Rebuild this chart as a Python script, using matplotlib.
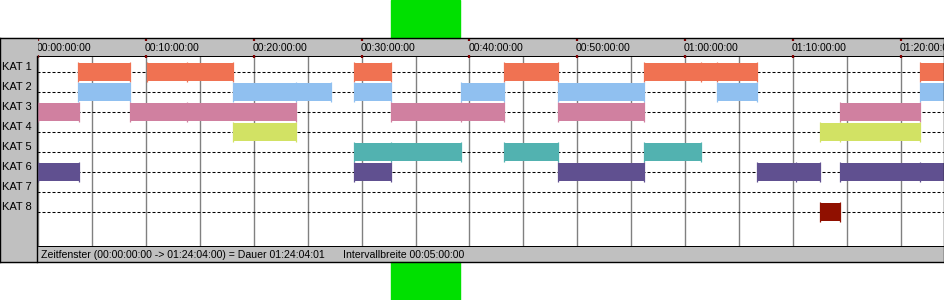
import matplotlib
matplotlib.use("Agg")
import matplotlib.pyplot as plt
from matplotlib.patches import Rectangle
from matplotlib.lines import Line2D

# categories and their segments (start, end) in minutes
categories = ["KAT 1", "KAT 2", "KAT 3", "KAT 4", "KAT 5", "KAT 6", "KAT 7", "KAT 8"]
colors = ["#F07252", "#90C0F0", "#D080A0", "#D2E264", "#52B2B0", "#605090", "#808080", "#901000"]

kat1 = [(3.68, 8.48), (10.08, 13.82), (13.82, 18.09), (29.29, 32.76), (43.2, 48.24),
        (56.22, 61.45), (61.45, 62.93), (62.93, 66.64), (81.81, 84.07)]
kat2 = [(3.68, 8.48), (18.09, 23.95), (23.95, 27.12), (29.29, 32.76), (39.17, 43.2),
        (48.24, 56.22), (62.93, 66.64), (81.81, 84.07)]
kat3 = [(0.0, 3.75), (8.48, 13.82), (13.82, 23.95), (32.76, 39.17), (39.17, 43.2),
        (48.24, 56.22), (74.38, 81.81)]
kat4 = [(18.09, 23.95), (72.5, 74.38), (74.38, 81.81)]
kat5 = [(29.29, 32.76), (32.76, 39.17), (43.2, 48.24), (56.22, 61.45)]
kat6 = [(0.0, 3.75), (29.29, 32.76), (48.24, 56.22), (66.64, 70.26), (70.26, 72.5),
        (74.38, 81.81), (81.81, 84.07)]
kat7 = []
kat8 = [(72.5, 74.38)]
segments = [kat1, kat2, kat3, kat4, kat5, kat6, kat7, kat8]

header_ticks = list(range(0, 81, 10))
header_labels = ["00:00:00:00", "00:10:00:00", "00:20:00:00", "00:30:00:00", "00:40:00:00",
                 "00:50:00:00", "01:00:00:00", "01:10:00:00", "01:20:00:00"]
status_left = "Zeitfenster (00:00:00:00 -> 01:24:04:00) = Dauer 01:24:04:01"
status_right = "Intervallbreite 00:05:00:00"

W, H = 945, 300
GRAY = "#C0C0C0"
FONT = "Liberation Sans"
FS = 7.6

def fx(x):
    return x / W

def fy(y):
    return 1 - y / H

fig = plt.figure(figsize=(W / 100, H / 100), dpi=100)
fig.patch.set_facecolor("white")

# green markers above / below the panel
for y0, y1 in [(0, 38), (262, 300)]:
    fig.patches.append(Rectangle((fx(391), fy(y1)), fx(460) - fx(391), fy(y0) - fy(y1),
                                 transform=fig.transFigure, color="#00E000", zorder=0))

# left label column
fig.patches.append(Rectangle((0, fy(262)), fx(37), fy(38) - fy(262),
                             transform=fig.transFigure, color=GRAY, zorder=1))

left, right = fx(37), fx(944)
ax = fig.add_axes([left, fy(246), right - left, fy(56) - fy(246)])
hax = fig.add_axes([left, fy(56), right - left, fy(38) - fy(56)], sharex=ax)
sax = fig.add_axes([left, fy(262), right - left, fy(246) - fy(262)], sharex=ax)

ax.set_xlim(-0.12, 84.02)
ax.set_ylim(8.69, -0.815)

px = 0.72
for a in (ax, hax, sax):
    a.tick_params(length=0, labelbottom=False, labelleft=False)
    for s in a.spines.values():
        s.set_linewidth(px)
        s.set_color("black")
hax.set_facecolor(GRAY)
sax.set_facecolor(GRAY)
hax.set_yticks([])
sax.set_yticks([])

# grid: vertical every 5 minutes, dashed line per category
ax.set_xticks(range(0, 85, 5))
ax.set_yticks(range(len(categories)))
ax.xaxis.grid(True, color="#808080", linewidth=1.0, zorder=0)
ax.yaxis.grid(True, color="black", linewidth=0.75, linestyle=(0, (2.9, 1.9)))
ax.set_axisbelow(True)

for i, (segs, c) in enumerate(zip(segments, colors)):
    if not segs:
        continue
    ax.broken_barh([(s, e - s) for s, e in segs], (i - 0.45, 0.9), facecolors=c, zorder=3)
    edges = sorted(set([s for s, e in segs] + [e for s, e in segs]))
    ax.vlines(edges, i - 0.49, i + 0.49, colors=c, linewidth=0.9, zorder=3)

# header labels and red markers
for t, lab in zip(header_ticks, header_labels):
    hax.text(t - 0.12, 0.45, lab, transform=hax.get_xaxis_transform(), ha="left",
             va="center", fontsize=FS, family=FONT, clip_on=True)
hax.vlines(header_ticks, 0.85, 1.0, transform=hax.get_xaxis_transform(),
           colors="#800000", linewidth=1.6, clip_on=False, zorder=5)
hax.vlines(header_ticks, -0.1, 0.06, transform=hax.get_xaxis_transform(),
           colors="#800000", linewidth=1.6, clip_on=False, zorder=5)

# category labels in the left column
for i, name in enumerate(categories):
    fig.text(fx(2), fy(72.3 + 20 * i - 5.8), name, ha="left", va="center",
             fontsize=FS + 0.4, family=FONT)

# status bar
fig.text(fx(41), fy(254.5), status_left, ha="left", va="center", fontsize=FS, family=FONT)
fig.text(fx(343), fy(254.5), status_right, ha="left", va="center", fontsize=FS, family=FONT)

# outer frame
for xs, ys in [([0, 944], [38, 38]), ([0, 944], [262, 262]), ([0, 0], [38, 262]),
               ([944, 944], [38, 262]), ([37, 37], [56, 262])]:
    fig.lines.append(Line2D([fx(v) for v in xs], [fy(v) for v in ys], transform=fig.transFigure,
                            color="black", linewidth=1.0, zorder=10))

fig.savefig("out.png", dpi=100)
